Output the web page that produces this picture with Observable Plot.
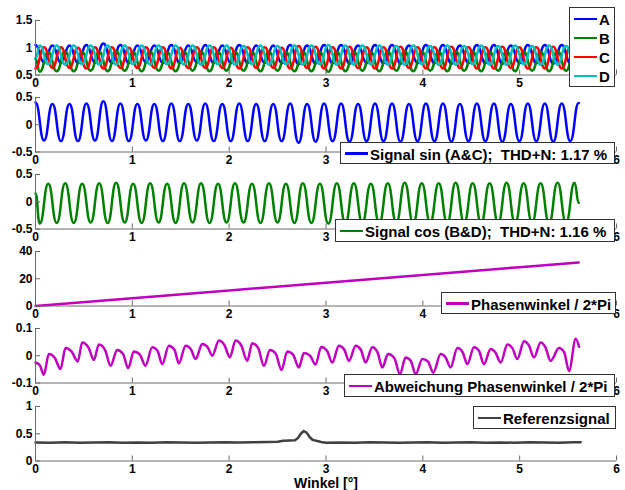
<!DOCTYPE html>
<html><head><meta charset="utf-8">
<script src="https://cdn.jsdelivr.net/npm/d3@7"></script>
<script src="https://cdn.jsdelivr.net/npm/@observablehq/plot@0.6"></script>
<style>
body{margin:0;background:#fff;}
#fig{position:relative;width:625px;height:490px;overflow:hidden;font-family:"Liberation Sans",Arial,sans-serif;font-weight:bold;background:#fff;}
#fig svg{position:absolute;left:0;}
.leg{position:absolute;background:#fff;border:1px solid #333;box-sizing:border-box;z-index:5;}
.leg .smp{position:absolute;height:2.5px;}
.leg .txt{position:absolute;font-size:15px;line-height:15px;white-space:pre;color:#000;transform:translateY(-50%);}
.xl{position:absolute;font-size:14px;line-height:14px;white-space:pre;transform:translate(-50%,-50%);z-index:5;}
</style></head>
<body><div id="fig"></div>
<script>
// ---------- data ----------
const xTicks = [0, 1, 2, 3, 4, 5, 6];
// tick labels that are not hidden behind a legend box, per subplot
const xTickLabels = [[0, 1, 2, 3, 4, 5], [0, 1, 2, 3, 6], [0, 1, 2, 3, 6], [0, 1, 2, 3, 4, 6], [0, 1, 2, 3, 6], [0, 1, 2, 3, 4, 5, 6]];
// extrema positions of A / C / sin signal (Winkel)
const xAC = [0.000,0.088,0.175,0.263,0.351,0.438,0.526,0.614,0.701,0.789,0.877,0.964,1.052,1.140,1.227,1.315,1.403,1.490,1.578,1.666,1.753,1.841,1.929,2.016,2.104,2.192,2.279,2.367,2.455,2.542,2.630,2.717,2.805,2.893,2.980,3.068,3.156,3.243,3.331,3.419,3.506,3.594,3.682,3.769,3.857,3.945,4.032,4.120,4.208,4.295,4.383,4.471,4.558,4.646,4.734,4.821,4.909,4.997,5.084,5.172,5.260,5.347,5.435,5.523,5.610];
// extrema positions of B / D / cos signal
const xBD = [0.044,0.132,0.219,0.307,0.395,0.482,0.570,0.658,0.745,0.833,0.921,1.008,1.096,1.184,1.271,1.359,1.447,1.534,1.622,1.710,1.797,1.885,1.973,2.060,2.148,2.236,2.323,2.411,2.499,2.586,2.674,2.761,2.849,2.937,3.024,3.112,3.200,3.287,3.375,3.463,3.550,3.638,3.726,3.813,3.901,3.989,4.076,4.164,4.252,4.339,4.427,4.515,4.602,4.690,4.778,4.865,4.953,5.041,5.128,5.216,5.304,5.391,5.479,5.567];
const xEdge = [0, 5.610];

const aPeaks = [1.05,1.04,1.04,1.05,1.08,1.05,1.04,1.04,1.05,1.04,1.05,1.04,1.05,1.04,1.04,1.05,1.04,1.05,1.05,1.04,1.05,1.05,1.04,1.05,1.05,1.04,1.05,1.05,1.04,1.05,1.05,1.05,1.06];
const aTroughs = [0.73,0.72,0.72,0.73,0.72,0.72,0.73,0.72,0.72,0.73,0.72,0.72,0.72,0.72,0.72,0.70,0.71,0.72,0.71,0.72,0.72,0.71,0.72,0.72,0.71,0.72,0.72,0.71,0.72,0.72,0.71,0.72];
const cTroughs = [0.62,0.63,0.63,0.62,0.62,0.63,0.63,0.63,0.62,0.63,0.63,0.63,0.62,0.63,0.63,0.62,0.63,0.62,0.62,0.63,0.62,0.62,0.63,0.62,0.62,0.63,0.62,0.62,0.63,0.62,0.62,0.62,0.62];
const cPeaks = [1.01,1.01,1.00,1.01,1.01,1.00,1.01,1.01,1.00,1.01,1.01,1.00,1.01,1.01,1.00,1.03,1.02,1.01,1.02,1.01,1.01,1.02,1.01,1.01,1.02,1.01,1.01,1.02,1.01,1.01,1.02,1.01];
const bTroughs = [0.56,0.57,0.57,0.58,0.57,0.58,0.57,0.58,0.57,0.58,0.57,0.58,0.58,0.57,0.58,0.57,0.57,0.56,0.57,0.58,0.57,0.58,0.57,0.58,0.57,0.58,0.57,0.58,0.57,0.58,0.57,0.58];
const bPeaks = [0.92,0.93,0.92,0.93,0.94,0.92,0.93,0.92,0.93,0.93,0.92,0.93,0.92,0.93,0.92,0.93,0.92,0.93,0.93,0.92,0.93,0.94,0.93,0.93,0.94,0.93,0.93,0.94,0.93,0.93,0.94,0.94];
const bEdge = [0.80, 0.86];
const dPeaks = [1.04,1.04,1.04,1.04,1.04,1.04,1.04,1.04,1.04,1.04,1.04,1.04,1.03,1.04,1.03,1.04,1.04,1.05,1.04,1.04,1.04,1.03,1.04,1.03,1.04,1.03,1.04,1.03,1.04,1.03,1.04,1.03];
const dTroughs = [0.70,0.69,0.70,0.69,0.69,0.70,0.69,0.70,0.69,0.69,0.70,0.69,0.70,0.69,0.70,0.69,0.70,0.69,0.69,0.70,0.69,0.69,0.70,0.69,0.69,0.70,0.69,0.69,0.70,0.69,0.69,0.70];
const dEdge = [0.80, 0.80];

const sinPeaks = [0.41,0.38,0.38,0.39,0.43,0.39,0.38,0.38,0.39,0.38,0.39,0.38,0.39,0.38,0.38,0.39,0.38,0.39,0.39,0.38,0.39,0.39,0.38,0.39,0.39,0.38,0.39,0.39,0.38,0.39,0.39,0.39,0.40];
const sinTroughs = [-0.29,-0.30,-0.30,-0.29,-0.30,-0.30,-0.29,-0.30,-0.30,-0.29,-0.30,-0.30,-0.30,-0.30,-0.30,-0.33,-0.31,-0.30,-0.31,-0.30,-0.30,-0.31,-0.30,-0.30,-0.31,-0.30,-0.30,-0.31,-0.30,-0.30,-0.31,-0.30];
const cosTroughs = [-0.40,-0.39,-0.39,-0.38,-0.39,-0.38,-0.39,-0.38,-0.39,-0.38,-0.39,-0.38,-0.38,-0.39,-0.38,-0.39,-0.39,-0.40,-0.39,-0.38,-0.39,-0.38,-0.39,-0.38,-0.39,-0.38,-0.39,-0.38,-0.39,-0.38,-0.39,-0.38];
const cosPeaks = [0.33,0.34,0.33,0.34,0.35,0.33,0.34,0.33,0.34,0.34,0.33,0.34,0.33,0.34,0.33,0.34,0.33,0.34,0.34,0.33,0.34,0.35,0.34,0.34,0.35,0.34,0.34,0.35,0.34,0.34,0.35,0.35];
const cosEdge = [0.15, -0.02];

const phaseX = [0, 1, 2, 3, 4, 5, 5.61];
const phaseY = [0, 5.7, 11.4, 17.1, 22.8, 28.5, 32.0];

const devX = [0.000,0.045,0.086,0.138,0.200,0.258,0.310,0.375,0.437,0.482,0.548,0.603,0.654,0.720,0.775,0.844,0.905,0.957,1.016,1.078,1.136,1.205,1.260,1.309,1.377,1.435,1.481,1.550,1.605,1.653,1.722,1.780,1.825,1.894,1.950,2.007,2.066,2.125,2.187,2.238,2.300,2.359,2.421,2.480,2.541,2.600,2.660,2.720,2.772,2.835,2.893,2.950,3.010,3.065,3.133,3.190,3.237,3.306,3.360,3.409,3.478,3.530,3.582,3.640,3.705,3.764,3.822,3.875,3.926,3.995,4.055,4.108,4.184,4.235,4.287,4.356,4.410,4.460,4.528,4.580,4.631,4.700,4.750,4.804,4.873,4.925,4.976,5.045,5.095,5.148,5.217,5.265,5.320,5.406,5.460,5.510,5.579,5.613];
const devY = [-0.025,-0.035,-0.070,0.006,-0.008,-0.049,0.028,0.014,-0.021,0.049,0.030,-0.016,0.041,0.020,-0.037,0.021,0.006,-0.046,0.016,0.004,-0.037,0.031,0.018,-0.031,0.037,0.022,-0.028,0.037,0.024,-0.012,0.043,0.030,0.000,0.056,0.040,-0.006,0.056,0.038,-0.019,0.046,0.028,-0.037,0.021,0.008,-0.052,0.016,0.004,-0.043,0.010,0.000,-0.032,0.032,0.018,-0.025,0.037,0.022,-0.019,0.037,0.022,-0.025,0.031,0.014,-0.043,0.006,-0.008,-0.068,-0.006,-0.018,-0.068,-0.012,-0.022,-0.062,0.006,-0.006,-0.043,0.028,0.014,-0.031,0.031,0.018,-0.031,0.025,0.012,-0.025,0.041,0.028,-0.012,0.053,0.038,-0.006,0.049,0.032,-0.019,0.028,0.012,-0.056,0.062,0.033];

const refX = [0,0.15,0.3,0.45,0.6,0.75,0.9,1.05,1.2,1.35,1.5,1.65,1.8,1.95,2.1,2.25,2.4,2.5,2.56,2.62,2.68,2.71,2.74,2.77,2.80,2.83,2.86,2.90,2.95,3.0,3.15,3.3,3.45,3.6,3.75,3.9,4.05,4.2,4.35,4.5,4.65,4.8,4.95,5.1,5.25,5.4,5.55,5.63];
const refY = [0.34,0.335,0.345,0.335,0.34,0.345,0.335,0.34,0.335,0.345,0.34,0.335,0.34,0.345,0.34,0.345,0.35,0.355,0.37,0.375,0.38,0.42,0.50,0.55,0.52,0.44,0.39,0.37,0.35,0.335,0.34,0.335,0.345,0.34,0.335,0.34,0.345,0.335,0.34,0.345,0.335,0.34,0.335,0.345,0.34,0.335,0.345,0.345];

const legendLabels = ["A", "B", "C", "D"];
const xLabel = "Winkel [°]";

// ---------- tables ----------
const alt = (xs, even, odd) => xs.map((x, i) => ({x, y: i % 2 === 0 ? even[i >> 1] : odd[i >> 1]}));
const edged = (rows, edge) => [{x: xEdge[0], y: edge[0]}, ...rows, {x: xEdge[1], y: edge[1]}];
const A = alt(xAC, aPeaks, aTroughs);
const C = alt(xAC, cTroughs, cPeaks);
const B = edged(alt(xBD, bTroughs, bPeaks), bEdge);
const D = edged(alt(xBD, dPeaks, dTroughs), dEdge);
const SIN = alt(xAC, sinPeaks, sinTroughs);
const COS = edged(alt(xBD, cosTroughs, cosPeaks), cosEdge);
const PH = phaseX.map((x, i) => ({x, y: phaseY[i]}));
const DEV = devX.map((x, i) => ({x, y: devY[i]}));
const REF = refX.map((x, i) => ({x, y: refY[i]}));

const COL = {A: "#0000ff", B: "#008000", C: "#ff0000", D: "#00bfbf", M: "#bf00bf", G: "#404040"};
const AX = "#6a6a6a";
const fig = document.getElementById("fig");

const MT = 12, MB = 24, PH_H = 54.5;
function subplot(top, labelTicks, yDomain, yTicks, marks) {
  const svg = Plot.plot({
    width: 625, height: MT + PH_H + MB,
    marginLeft: 35, marginRight: 9, marginTop: MT, marginBottom: MB,
    style: {background: "transparent", overflow: "visible", fontFamily: '"Liberation Sans", Arial, sans-serif', fontSize: "12px", fontWeight: "bold", color: "#000"},
    x: {domain: [0, 6]},
    y: {domain: yDomain},
    marks: [
      ...marks,
      Plot.ruleX([0], {stroke: AX}),
      Plot.ruleY([yDomain[0]], {stroke: AX}),
      Plot.axisX({ticks: xTicks, tickSize: -5, text: null, label: null, stroke: AX}),
      Plot.axisX({ticks: labelTicks, tickSize: 0, tickPadding: 3, label: null, tickFormat: d => String(d)}),
      Plot.axisY({ticks: yTicks, tickSize: -5, text: null, label: null, stroke: AX}),
      Plot.axisY({ticks: yTicks, tickSize: 0, tickPadding: 3, label: null, tickFormat: d => String(d)})
    ]
  });
  svg.style.top = (top - MT) + "px";
  fig.appendChild(svg);
}

const lineOpts = (stroke, curve) => ({x: "x", y: "y", stroke, strokeWidth: 2.5, curve});

subplot(19.5, xTickLabels[0], [0.5, 1.5], [0.5, 1, 1.5], [
  Plot.line(A, lineOpts(COL.A, "bump-x")),
  Plot.line(B, lineOpts(COL.B, "bump-x")),
  Plot.line(C, lineOpts(COL.C, "bump-x")),
  Plot.line(D, lineOpts(COL.D, "bump-x"))
]);
subplot(96.7, xTickLabels[1], [-0.5, 0.5], [-0.5, 0, 0.5], [Plot.line(SIN, lineOpts(COL.A, "bump-x"))]);
subplot(173.9, xTickLabels[2], [-0.5, 0.5], [-0.5, 0, 0.5], [Plot.line(COS, lineOpts(COL.B, "bump-x"))]);
subplot(251.1, xTickLabels[3], [0, 40], [0, 20, 40], [Plot.line(PH, lineOpts(COL.M, "linear"))]);
subplot(328.3, xTickLabels[4], [-0.1, 0.1], [-0.1, 0, 0.1], [Plot.line(DEV, lineOpts(COL.M, "monotone-x"))]);
subplot(405.5, xTickLabels[5], [0, 1], [0, 0.5, 1], [Plot.line(REF, lineOpts(COL.G, "linear"))]);

// ---------- legends ----------
function legend(left, top, w, h, rows) {
  const div = document.createElement("div");
  div.className = "leg";
  Object.assign(div.style, {left: left + "px", top: top + "px", width: w + "px", height: h + "px"});
  rows.forEach(([color, label, cy]) => {
    const s = document.createElement("div");
    s.className = "smp";
    Object.assign(s.style, {left: "4px", width: "23px", top: (cy - 1.25) + "px", background: color});
    const t = document.createElement("div");
    t.className = "txt";
    Object.assign(t.style, {left: "29px", top: cy + "px"});
    t.textContent = label;
    div.appendChild(s); div.appendChild(t);
  });
  fig.appendChild(div);
}
legend(569, 7, 46, 80, [[COL.A, legendLabels[0], 11], [COL.B, legendLabels[1], 30], [COL.C, legendLabels[2], 49], [COL.D, legendLabels[3], 68]]);
legend(340, 142, 275, 22, [[COL.A, "Signal sin (A&C);  THD+N: 1.17 %", 10.5]]);
legend(335, 219, 280, 23, [[COL.B, "Signal cos (B&D);  THD+N: 1.16 %", 11]]);
legend(441, 292, 175, 22, [[COL.M, "Phasenwinkel / 2*Pi", 10.5]]);
legend(344, 374, 271, 23, [[COL.M, "Abweichung Phasenwinkel / 2*Pi", 11]]);
legend(473, 406, 143, 23, [[COL.G, "Referenzsignal", 11]]);

const xl = document.createElement("div");
xl.className = "xl";
Object.assign(xl.style, {left: "326px", top: "482.5px"});
xl.textContent = xLabel;
fig.appendChild(xl);
</script>
</body></html>
